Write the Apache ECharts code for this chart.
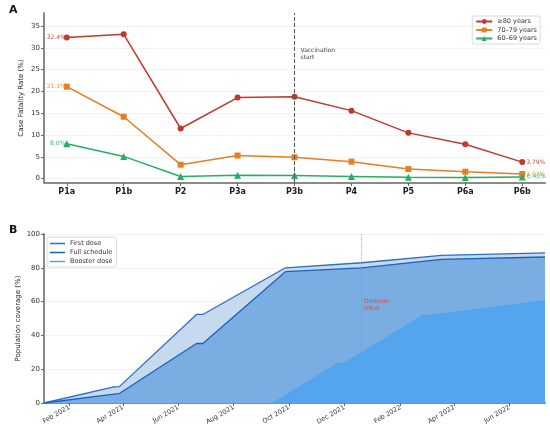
<!DOCTYPE html>
<html lang="en">
<head>
<meta charset="UTF-8">
<title>CFR and vaccination coverage</title>
<script src="https://cdn.jsdelivr.net/npm/echarts@6/dist/echarts.min.js"></script>
<style>
body{margin:0;padding:0;background:#fff;}
#main{width:550px;height:428px;}
</style>
</head>
<body>
<div id="main"></div>
<script>
// panel A: case fatality rate per period
var periods = ['P1a', 'P1b', 'P2', 'P3a', 'P3b', 'P4', 'P5', 'P6a', 'P6b'];
var cfr80 = [32.4, 33.1, 11.5, 18.6, 18.8, 15.6, 10.5, 7.9, 3.79];
var cfr70 = [21.1, 14.2, 3.2, 5.3, 4.9, 3.9, 2.2, 1.6, 1.07];
var cfr60 = [8.0, 5.1, 0.5, 0.8, 0.7, 0.5, 0.3, 0.25, 0.40];
var cfrTicks = [0, 5, 10, 15, 20, 25, 30, 35];
var periodTicks = [0, 1, 2, 3, 4, 5, 6, 7, 8];

// panel B: population coverage
var doseDates = ['2021-01-04', '2021-03-22', '2021-03-28', '2021-06-21', '2021-06-28',
                 '2021-09-27', '2021-12-20', '2022-03-18', '2022-07-10'];
var firstDose = [0, 9.5, 9.7, 52.4, 52.4, 80.0, 83.0, 87.4, 88.8];
var fullSchedule = [0, 5.3, 5.6, 35.2, 35.2, 77.7, 80.0, 85.0, 86.4];
var boosterDates = ['2021-09-13', '2021-11-23', '2021-11-30', '2022-02-26', '2022-03-07', '2022-07-10'];
var boosterDose = [0, 23.4, 23.4, 52.0, 52.0, 60.6];
var monthTicks = ['2021-02-01', '2021-04-01', '2021-06-01', '2021-08-01', '2021-10-01',
                  '2021-12-01', '2022-02-01', '2022-04-01', '2022-06-01'];
var coverageTicks = [0, 20, 40, 60, 80, 100];
var omicronDate = '2021-12-20';

var font = 'DejaVu Sans';
var months = ['Jan','Feb','Mar','Apr','May','Jun','Jul','Aug','Sep','Oct','Nov','Dec'];

function ts(d) {
    var p = d.split('-');
    return Date.UTC(+p[0], +p[1] - 1, +p[2]);
}

function cfrData(vals, color) {
    return vals.map(function (v, i) {
        var item = {value: [i, v]};
        if (i === 0) {
            item.label = {show: true, position: 'left', distance: -2,
                formatter: v.toFixed(1) + '%', color: color, fontSize: 6, fontFamily: font};
        } else if (i === vals.length - 1) {
            item.label = {show: true, position: 'right', distance: 1,
                formatter: v.toFixed(2) + '%', color: color, fontSize: 6, fontFamily: font};
        }
        return item;
    });
}

function pairs(dates, vals) {
    return dates.map(function (d, i) { return [ts(d), vals[i]]; });
}

var monthTickVals = monthTicks.map(ts);
var axisLine = {show: true, onZero: false, lineStyle: {color: '#8a8a8a', width: 2}};
var faintGrid = {show: true, lineStyle: {color: '#f0f0f0', width: 0.8}};

var myChart = echarts.init(document.getElementById('main'));
var option = {
    animation: false,
    textStyle: {fontFamily: font},
    title: [
        {text: 'A', left: 4, top: 0, textStyle: {fontSize: 11, fontWeight: 'bold', color: '#111', fontFamily: font}},
        {text: 'B', left: 4, top: 220, textStyle: {fontSize: 11, fontWeight: 'bold', color: '#111', fontFamily: font}}
    ],
    legend: [
        {
            data: ['≥80 years', '70–79 years', '60–69 years'],
            orient: 'vertical', right: 10, top: 16,
            itemWidth: 16, itemHeight: 6, itemGap: 1.5,
            padding: [2, 3, 2, 3],
            borderColor: '#d0d0d0', borderWidth: 0.8, borderRadius: 2,
            textStyle: {fontSize: 6.5, color: '#333', fontFamily: font}
        },
        {
            data: ['First dose', 'Full schedule', 'Booster dose'],
            orient: 'vertical', left: 47, top: 237,
            icon: 'rect', itemWidth: 15, itemHeight: 1.5, itemGap: 2,
            padding: [3, 4, 2, 3],
            borderColor: '#d0d0d0', borderWidth: 0.8, borderRadius: 2,
            textStyle: {fontSize: 6.5, color: '#333', fontFamily: font}
        }
    ],
    grid: [
        {left: 44, right: 5, top: 13, height: 170},
        {left: 44, right: 5, top: 234, height: 169}
    ],
    xAxis: [
        {
            type: 'value', gridIndex: 0, min: -0.4, max: 8.4,
            axisLine: axisLine,
            axisTick: {show: true, length: 3, customValues: periodTicks, lineStyle: {color: '#666'}},
            axisLabel: {customValues: periodTicks, fontSize: 8, fontWeight: 'bold', color: '#222', margin: 5,
                formatter: function (v) { return periods[Math.round(v)]; }},
            splitLine: {show: false}
        },
        {
            type: 'value', gridIndex: 1, min: ts(doseDates[0]), max: ts(doseDates[doseDates.length - 1]),
            axisLine: axisLine,
            axisTick: {show: true, length: 3, customValues: monthTickVals, lineStyle: {color: '#666'}},
            axisLabel: {customValues: monthTickVals, rotate: 30, fontSize: 6.5, color: '#333', margin: 4,
                formatter: function (v) { var d = new Date(v); return months[d.getUTCMonth()] + ' ' + d.getUTCFullYear(); }},
            splitLine: {show: false}
        }
    ],
    yAxis: [
        {
            type: 'value', gridIndex: 0, min: -1, max: 38,
            name: 'Case Fatality Rate (%)', nameLocation: 'middle', nameGap: 19, nameMoveOverlap: false,
            nameTextStyle: {fontSize: 7, color: '#222', fontFamily: font},
            axisLine: axisLine,
            axisTick: {show: true, length: 3, customValues: cfrTicks, lineStyle: {color: '#666'}},
            axisLabel: {customValues: cfrTicks, fontSize: 7, color: '#333', margin: 4},
            splitLine: faintGrid
        },
        {
            type: 'value', gridIndex: 1, min: 0, max: 100,
            name: 'Population coverage (%)', nameLocation: 'middle', nameGap: 22, nameMoveOverlap: false,
            nameTextStyle: {fontSize: 7, color: '#222', fontFamily: font},
            axisLine: axisLine,
            axisTick: {show: true, length: 3, customValues: coverageTicks, lineStyle: {color: '#666'}},
            axisLabel: {customValues: coverageTicks, fontSize: 7, color: '#333', margin: 4},
            splitLine: faintGrid
        }
    ],
    series: [
        {
            name: '≥80 years', type: 'line', xAxisIndex: 0, yAxisIndex: 0,
            data: cfrData(cfr80, '#d0483a'),
            color: '#c0392b', symbol: 'circle', symbolSize: 6,
            lineStyle: {width: 1.5},
            markLine: {
                silent: true, symbol: 'none',
                lineStyle: {color: '#555', type: 'dashed', width: 1},
                label: {show: false},
                data: [{xAxis: 4}]
            },
            markPoint: {
                symbol: 'circle', symbolSize: 0,
                label: {show: true, position: 'right', distance: 6, formatter: 'Vaccination\nstart',
                    fontSize: 6, color: '#444', lineHeight: 7, fontFamily: font},
                data: [{coord: [4, 28.6]}]
            }
        },
        {
            name: '70–79 years', type: 'line', xAxisIndex: 0, yAxisIndex: 0,
            data: cfrData(cfr70, '#ef9a45'),
            color: '#e67e22', symbol: 'rect', symbolSize: 6,
            lineStyle: {width: 1.5}
        },
        {
            name: '60–69 years', type: 'line', xAxisIndex: 0, yAxisIndex: 0,
            data: cfrData(cfr60, '#40be74'),
            color: '#27ae60', symbol: 'triangle', symbolSize: 7,
            lineStyle: {width: 1.5}
        },
        {
            name: 'First dose', type: 'line', xAxisIndex: 1, yAxisIndex: 1,
            data: pairs(doseDates, firstDose),
            color: '#2a6fca', symbol: 'none', lineStyle: {width: 1.3},
            areaStyle: {color: '#c7d9ef', opacity: 1}
        },
        {
            name: 'Full schedule', type: 'line', xAxisIndex: 1, yAxisIndex: 1,
            data: pairs(doseDates, fullSchedule),
            color: '#1763c2', symbol: 'none', lineStyle: {width: 1.3},
            areaStyle: {color: '#7aade1', opacity: 1}
        },
        {
            name: 'Booster dose', type: 'line', xAxisIndex: 1, yAxisIndex: 1,
            data: pairs(boosterDates, boosterDose),
            color: '#48a6f2', symbol: 'none', lineStyle: {width: 0.8},
            areaStyle: {color: '#54a5ee', opacity: 1},
            markLine: {
                silent: true, symbol: 'none',
                lineStyle: {color: '#e07070', type: 'dotted', width: 0.8},
                label: {show: false},
                data: [{xAxis: ts(omicronDate)}]
            },
            markPoint: {
                symbol: 'circle', symbolSize: 0,
                label: {show: true, position: 'right', distance: 2, formatter: 'Omicron\n(P6a)',
                    fontSize: 6, color: '#c0504d', lineHeight: 7, fontFamily: font},
                data: [{coord: [ts(omicronDate), 58]}]
            }
        }
    ]
};
myChart.setOption(option);
</script>
</body>
</html>
